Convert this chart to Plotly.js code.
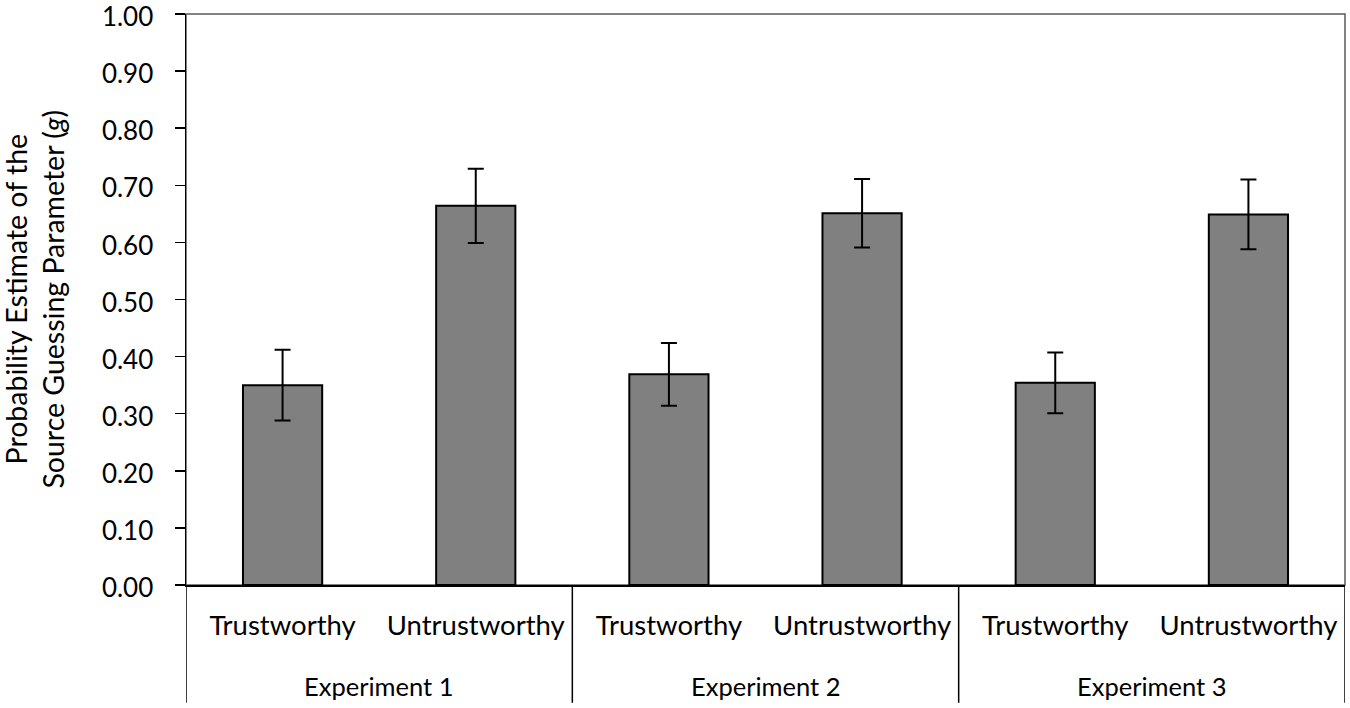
<!DOCTYPE html>
<html>
<head>
<meta charset="utf-8">
<script src="https://cdn.plot.ly/plotly-3.0.1.min.js"></script>
<style>html,body{margin:0;padding:0;background:#fff;}#chart{width:1350px;height:708px;}</style>
</head>
<body>
<div id="chart"></div>
<script>
const experiments = ["Experiment 1", "Experiment 1", "Experiment 2", "Experiment 2", "Experiment 3", "Experiment 3"];
const sources = ["Trustworthy", "Untrustworthy", "Trustworthy", "Untrustworthy", "Trustworthy", "Untrustworthy"];
const guessingG = [0.350, 0.664, 0.369, 0.651, 0.354, 0.649];
const errorG = [0.062, 0.065, 0.055, 0.060, 0.053, 0.061];
const yTickVals = [0, 0.1, 0.2, 0.3, 0.4, 0.5, 0.6, 0.7, 0.8, 0.9, 1.0];
const yTickText = ["0.00", "0.10", "0.20", "0.30", "0.40", "0.50", "0.60", "0.70", "0.80", "0.90", "1.00"];

const FONT = "Lato, 'Open Sans', sans-serif";

// category positions along the axis (one slot per bar)
const xPos = sources.map((_, i) => i);

// group extents derived from the experiments array
const groups = [];
experiments.forEach((g, i) => {
  const last = groups[groups.length - 1];
  if (last && last.name === g) { last.end = i; }
  else { groups.push({ name: g, start: i, end: i }); }
});

const DIV_BOTTOM = -0.2063;   // dividers reach below the label rows
const GROUP_LABEL_Y = -0.1766;

const shapes = [{
  type: "rect", xref: "paper", yref: "paper", x0: 0, x1: 1, y0: 0, y1: 1,
  line: { color: "#595959", width: 1.5 }, layer: "below"
}];
const bounds = [groups[0].start - 0.5].concat(groups.map(g => g.end + 0.5));
bounds.forEach(b => {
  shapes.push({
    type: "line", xref: "x", yref: "paper", x0: b, x1: b, y0: 0, y1: DIV_BOTTOM,
    line: { color: "#000000", width: 1.5 }
  });
});

const annotations = groups.map(g => ({
  xref: "x", yref: "paper", x: (g.start + g.end) / 2, y: GROUP_LABEL_Y,
  xanchor: "center", yanchor: "middle", showarrow: false,
  text: g.name, font: { family: FONT, size: 25.5, color: "#000000" }
}));
annotations.push({
  xref: "paper", yref: "paper", x: -0.1311, y: 0.5,
  xanchor: "center", yanchor: "middle",
  text: "Probability Estimate of the<br>Source Guessing Parameter (<i>g</i>)",
  textangle: -90, showarrow: false,
  font: { family: FONT, size: 28.5, color: "#000000" }
});

const trace = {
  type: "bar",
  x: xPos,
  y: guessingG,
  marker: { color: "#808080", line: { color: "#000000", width: 2 } },
  error_y: { type: "data", array: errorG, visible: true, color: "#000000", thickness: 2, width: 8 },
  hoverinfo: "skip"
};

const layout = {
  width: 1350, height: 708,
  margin: { l: 186, r: 5, t: 14, b: 123 },
  paper_bgcolor: "#ffffff", plot_bgcolor: "#ffffff",
  bargap: 0.59,
  showlegend: false,
  font: { family: FONT, size: 26, color: "#000000" },
  xaxis: {
    range: [xPos[0] - 0.5, xPos[xPos.length - 1] + 0.5],
    tickvals: xPos, ticktext: sources,
    showline: true, linecolor: "#000000", linewidth: 1.5,
    ticks: "", ticklen: 0,
    showgrid: false, zeroline: false,
    tickfont: { family: FONT, size: 27.5, color: "#000000" },
    ticklabelstandoff: 15,
    ticklabeloverflow: "allow",
    automargin: false, fixedrange: true
  },
  yaxis: {
    range: [0, 1.0],
    tickvals: yTickVals, ticktext: yTickText,
    showline: true, linecolor: "#000000", linewidth: 1.5,
    ticks: "outside", ticklen: 10, tickwidth: 1.5, tickcolor: "#000000",
    showgrid: false, zeroline: false,
    tickfont: { family: FONT, size: 26, color: "#000000" },
    ticklabelstandoff: 16,
    ticklabelshift: 3,
    ticklabeloverflow: "allow",
    automargin: false, fixedrange: true
  },
  shapes: shapes,
  annotations: annotations
};

Plotly.newPlot("chart", [trace], layout, { displayModeBar: false, staticPlot: true });
</script>
</body>
</html>
